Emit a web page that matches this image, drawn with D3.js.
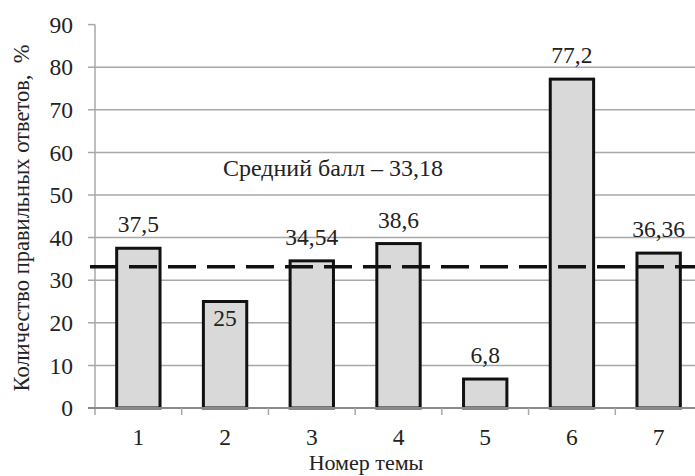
<!DOCTYPE html>
<html><head><meta charset="utf-8">
<script src="https://cdn.jsdelivr.net/npm/d3@7"></script>
<style>body{margin:0;background:#fff}svg{display:block}</style>
</head><body><svg id="c" width="695" height="476"></svg>
<script>
const categories = ["1","2","3","4","5","6","7"];
const values = [37.5, 25, 34.54, 38.6, 6.8, 77.2, 36.36];
const valueLabels = ["37,5","25","34,54","38,6","6,8","77,2","36,36"];
const yTicks = [0,10,20,30,40,50,60,70,80,90];
const meanValue = 33.18;
const meanLabel = "Средний балл – 33,18";
const yTitle = "Количество правильных ответов,\u00a0 %";
const xTitle = "Номер темы";

const svg = d3.select("#c");
const font = "'Liberation Serif', 'Times New Roman', serif";
const x = d3.scaleBand().domain(categories).range([95, 702]).paddingInner(0.5).paddingOuter(0.25);
const xb = d3.scaleBand().domain(categories).range([95, 702]);
const y = d3.scaleLinear().domain([0, 90]).range([408, 24.6]);
const grid = "#a8a8a8";

function txt(sel, size) {
  return sel.style("font-family", font).style("font-size", size + "px").attr("fill", "#222");
}

// gridlines
svg.append("g").selectAll("line").data(yTicks.filter(d => d > 0 && d < 90)).join("line")
  .attr("x1", 88).attr("x2", 702).attr("y1", d => y(d)).attr("y2", d => y(d))
  .attr("stroke", grid).attr("stroke-width", 1.5);
svg.append("line").attr("x1", 88).attr("x2", 95).attr("y1", y(90)).attr("y2", y(90)).attr("stroke", grid).attr("stroke-width", 1.5);
svg.append("line").attr("x1", 95).attr("x2", 95).attr("y1", y(90)).attr("y2", 415).attr("stroke", grid).attr("stroke-width", 1.5);
txt(svg.append("g").selectAll("text").data(yTicks).join("text")
  .attr("x", 73).attr("y", d => y(d)).attr("dy", "0.35em").attr("text-anchor", "end"), 23.5).text(d => d);

// bars
svg.append("g").selectAll("rect").data(values).join("rect")
  .attr("x", (d, i) => x(categories[i])).attr("width", x.bandwidth())
  .attr("y", d => y(d)).attr("height", d => y(0) - y(d))
  .attr("fill", "#d9d9d9").attr("stroke", "#111").attr("stroke-width", 3);

// x axis
svg.append("line").attr("x1", 88).attr("x2", 702).attr("y1", y(0)).attr("y2", y(0)).attr("stroke", "#8a8a8a").attr("stroke-width", 2);
svg.append("g").selectAll("line").data(categories.slice(1)).join("line")
  .attr("x1", d => xb(d)).attr("x2", d => xb(d)).attr("y1", y(0)).attr("y2", 415)
  .attr("stroke", grid).attr("stroke-width", 1.5);
txt(svg.append("g").selectAll("text").data(categories).join("text")
  .attr("x", d => xb(d) + xb.bandwidth() / 2).attr("y", 445).attr("text-anchor", "middle"), 23.5).text(d => d);

// mean line
svg.append("line").attr("x1", 90).attr("x2", 702).attr("y1", y(meanValue)).attr("y2", y(meanValue))
  .attr("stroke", "#111").attr("stroke-width", 3.5).attr("stroke-dasharray", "28,11");

// value labels
txt(svg.append("g").selectAll("text").data(values).join("text")
  .attr("x", (d, i) => xb(categories[i]) + xb.bandwidth() / 2)
  .attr("y", (d, i) => i === 1 ? y(d) + 24 : y(d) - 16)
  .attr("text-anchor", "middle"), 23.5)
  .text((d, i) => valueLabels[i]);

txt(svg.append("text").attr("x", 333).attr("y", 176).attr("text-anchor", "middle"), 24).text(meanLabel);

txt(svg.append("text").attr("transform", "translate(29,218) rotate(-90)").attr("text-anchor", "middle"), 22.5).text(yTitle);
txt(svg.append("text").attr("x", 366).attr("y", 470).attr("text-anchor", "middle"), 22).text(xTitle);
</script></body></html>
